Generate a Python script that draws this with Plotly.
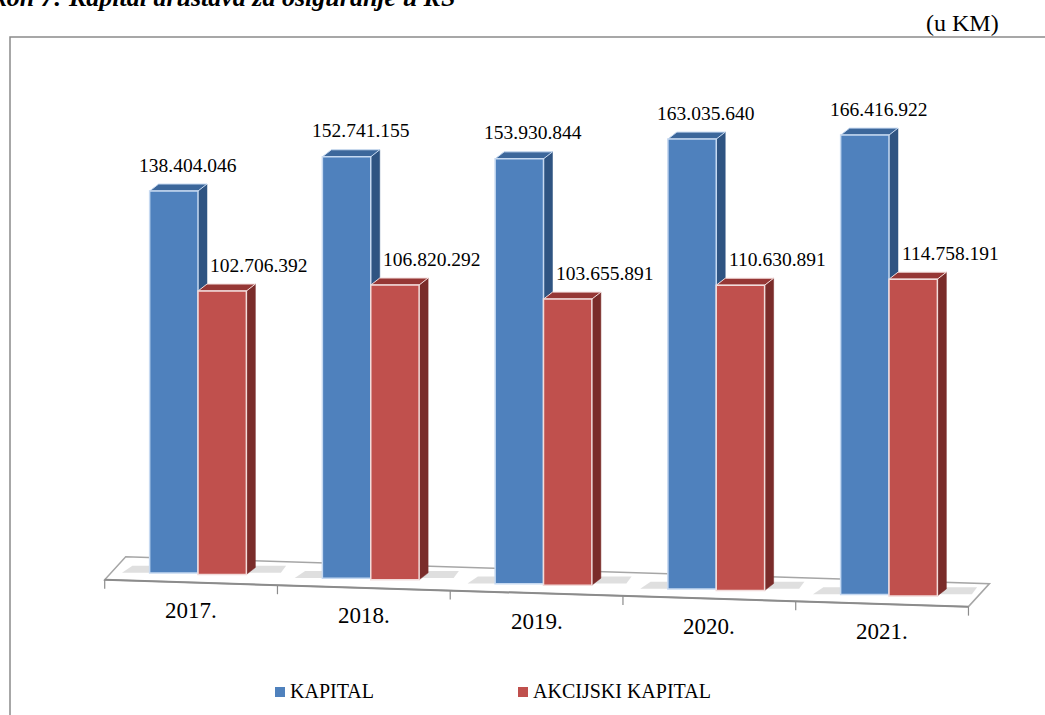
import plotly.graph_objects as go

# ---------------- data ----------------
years = ["2017.", "2018.", "2019.", "2020.", "2021."]
kapital = [138404046, 152741155, 153930844, 163035640, 166416922]
akcijski = [102706392, 106820292, 103655891, 110630891, 114758191]
series_names = ["KAPITAL", "AKCIJSKI KAPITAL"]
title_text = "Grafikon 7: Kapital društava za osiguranje u RS"
unit_text = "(u KM)"

# ---------------- styles ----------------
FONT = "Liberation Serif, Times New Roman, serif"
C_FRONT = ["#4F81BD", "#C0504D"]
C_TOP = ["#3C679B", "#963735"]
C_SIDE = ["#2F5482", "#7A2C2A"]
C_EDGE = ["#C6D9F1", "#F2DCDB"]

# ---------------- geometry (pixel model of the page) ----------------
W, H = 1045, 715
ML, MR, MT, MB = 100, 35, 60, 55
PW, PH = W - ML - MR, H - MT - MB
UX = 172.75          # px per category
X0PX = 198.0         # pixel of first category centre
KY = 2.76e-6         # px per unit of value
Y0PX = 573.0         # pixel of value 0 at reference x
XREF = 174.0
SKEW = 0.031         # perspective slope of the floor
BW = 0.28            # bar width (category units)
DXP, DYP = 9, 7      # 3D depth of bars, px

xr = [(ML - X0PX) / UX, (ML + PW - X0PX) / UX]
yr = [-(MT + PH - Y0PX) / KY, (Y0PX - MT) / KY]


def xpx(u):
    return X0PX + u * UX


def skew_base(u):
    return -SKEW * (xpx(u) - XREF) / KY


def px_to_paper(px, py):
    return (px - ML) / PW, (MT + PH - py) / PH


dxu, dyu = DXP / UX, DYP / KY
n = len(years)
idx = list(range(n))
offsets = [-BW, 0.0]
all_series = [kapital, akcijski]


def fmt_num(v):
    return f"{v:,}".replace(",", ".")


fig = go.Figure()
shapes = []

# ---------------- floor ----------------
FL, FR = -0.54, 4.46
FDX, FDY = 21 / UX, 23 / KY


def floor_y(u):
    return skew_base(u) - 9 / KY


fl_y, fr_y = floor_y(FL), floor_y(FR)
shapes.append(dict(
    type="path", xref="x", yref="y", layer="below",
    path=(f"M {FL},{fl_y} L {FR},{fr_y} L {FR + FDX},{fr_y + FDY} "
          f"L {FL + FDX},{fl_y + FDY} Z"),
    fillcolor="#FFFFFF", line=dict(color="#A6A6A6", width=1.5)))
shapes.append(dict(
    type="line", xref="x", yref="y", layer="below",
    x0=FL, y0=fl_y, x1=FR, y1=fr_y,
    line=dict(color="#8C8C8C", width=2)))
for k in range(n + 1):
    u = FL + k
    shapes.append(dict(
        type="line", xref="x", yref="y", layer="below",
        x0=u, y0=floor_y(u), x1=u, y1=floor_y(u) - 9 / KY,
        line=dict(color="#8C8C8C", width=1.2)))

# soft shadows on the floor
for i in idx:
    for xs, xe in ((i - BW - 0.16, i - BW + 0.02), (i + BW - 0.02, i + BW + 0.2)):
        yb = skew_base(i)
        shapes.append(dict(
            type="path", xref="x", yref="y", layer="below",
            path=(f"M {xs},{yb + 1 / KY} L {xe},{yb + 1 / KY} "
                  f"L {xe + 0.03},{yb + 8 / KY} L {xs + 0.06},{yb + 8 / KY} Z"),
            fillcolor="rgba(110,110,110,0.22)", line=dict(width=0)))

# ---------------- bars ----------------
for s, (vals, name) in enumerate(zip(all_series, series_names)):
    off = offsets[s]
    bases = [skew_base(i + off + BW / 2) for i in idx]
    fig.add_trace(go.Bar(
        x=idx, y=vals, base=bases, width=BW, offset=off, name=name,
        marker=dict(color=C_FRONT[s], line=dict(color=C_EDGE[s], width=1.5)),
        customdata=[fmt_num(v) for v in vals],
        hovertemplate="%{customdata}<extra>" + name + "</extra>",
        showlegend=False))
    for i in idx:
        x0 = i + off
        x1 = x0 + BW
        b = bases[i]
        t = b + vals[i]
        shapes.append(dict(
            type="path", xref="x", yref="y", layer="below",
            path=(f"M {x1},{b} L {x1},{t} L {x1 + dxu},{t + dyu} "
                  f"L {x1 + dxu},{b + dyu} Z"),
            fillcolor=C_SIDE[s], line=dict(color=C_SIDE[s], width=0.5)))
        shapes.append(dict(
            type="path", xref="x", yref="y", layer="below",
            path=(f"M {x0},{t} L {x1},{t} L {x1 + dxu},{t + dyu} "
                  f"L {x0 + dxu},{t + dyu} Z"),
            fillcolor=C_TOP[s], line=dict(color=C_EDGE[s], width=1)))

# ---------------- annotations ----------------
annotations = []

label_xshift = [14, 37]
for s, vals in enumerate(all_series):
    off = offsets[s]
    for i in idx:
        xc = i + off + BW / 2
        top = skew_base(xc) + vals[i]
        annotations.append(dict(
            x=xc, y=top, xref="x", yref="y", text=fmt_num(vals[i]),
            showarrow=False, xanchor="center", yanchor="middle",
            xshift=label_xshift[s], yshift=26,
            font=dict(family=FONT, size=19.5, color="#000000")))

for i, yl in enumerate(years):
    u = i - 0.04
    annotations.append(dict(
        x=u, y=floor_y(u), xref="x", yref="y", text=yl, showarrow=False,
        xanchor="center", yanchor="middle", yshift=-28,
        font=dict(family=FONT, size=23, color="#000000")))

# legend (drawn as marker squares + text)
leg_pos = [275, 518]
for s, name in enumerate(series_names):
    mx0, my0 = px_to_paper(leg_pos[s], 697)
    mx1, my1 = px_to_paper(leg_pos[s] + 10, 687)
    shapes.append(dict(
        type="rect", xref="paper", yref="paper",
        x0=mx0, y0=my0, x1=mx1, y1=my1,
        fillcolor=C_FRONT[s], line=dict(width=0)))
    px, py = px_to_paper(leg_pos[s] + 13, 691)
    annotations.append(dict(
        x=px, y=py, xref="paper", yref="paper", showarrow=False,
        xanchor="left", yanchor="middle", text=name,
        font=dict(family=FONT, size=20, color="#000000")))

# unit text
ux_, uy_ = px_to_paper(962, 23)
annotations.append(dict(
    x=ux_, y=uy_, xref="paper", yref="paper", text=unit_text,
    showarrow=False, xanchor="center", yanchor="middle",
    font=dict(family=FONT, size=24, color="#000000")))

# title (cut at the top of the page as in the source)
tx, ty = px_to_paper(457, -3)
annotations.append(dict(
    x=tx, y=ty, xref="paper", yref="paper", text=title_text,
    showarrow=False, xanchor="right", yanchor="middle",
    font=dict(family=FONT, size=26, color="#000000",
              style="italic", weight="bold")))

# outer frame
fx0, fy0 = px_to_paper(10, 37)
fx1, fy1 = px_to_paper(1060, 730)
shapes.append(dict(
    type="rect", xref="paper", yref="paper",
    x0=fx0, y0=fy1, x1=fx1, y1=fy0,
    line=dict(color="#8A8A8A", width=1.5), fillcolor="rgba(0,0,0,0)",
    layer="below"))

fig.update_layout(
    width=W, height=H,
    margin=dict(l=ML, r=MR, t=MT, b=MB, autoexpand=False),
    paper_bgcolor="white", plot_bgcolor="rgba(0,0,0,0)",
    barmode="overlay",
    xaxis=dict(range=xr, visible=False, fixedrange=True),
    yaxis=dict(range=yr, visible=False, fixedrange=True),
    shapes=shapes, annotations=annotations,
    showlegend=False,
)

fig.write_html(
    "out.html",
    config={"displayModeBar": False},
    post_script="document.body.style.margin='0';document.body.style.overflow='hidden';",
)
